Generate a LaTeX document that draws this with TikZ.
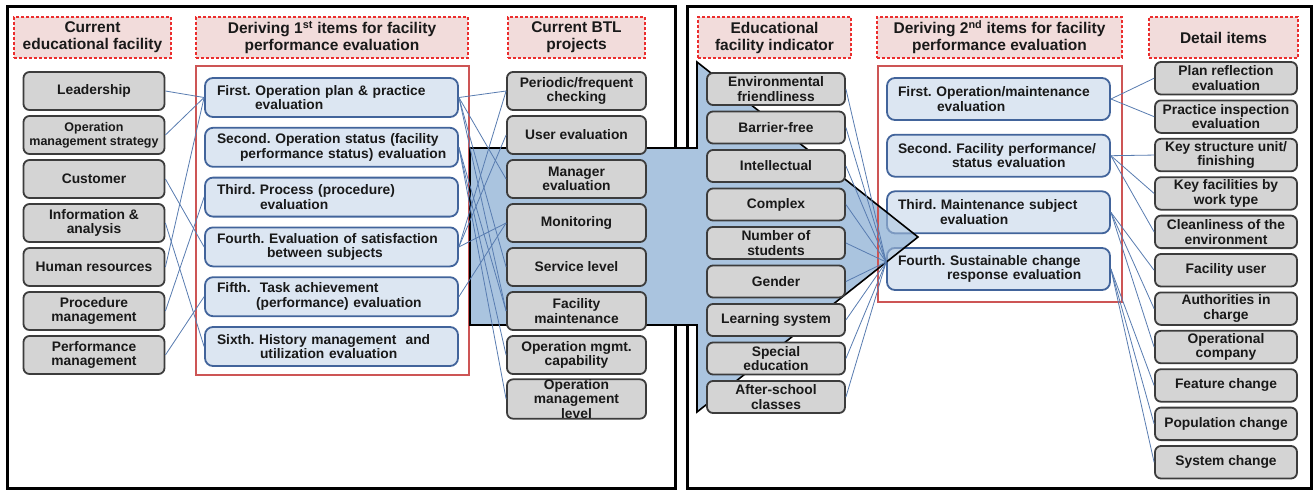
\documentclass[tikz,border=0pt]{standalone}
\usepackage{fontspec}
\setmainfont{Liberation Sans}
\usetikzlibrary{calc}
\frenchspacing

\definecolor{txt}{RGB}{25,25,25}
\definecolor{hdrred}{RGB}{235,45,45}
\definecolor{hdrpink}{RGB}{242,220,219}
\definecolor{framered}{RGB}{205,85,85}
\definecolor{gboxline}{RGB}{60,60,60}
\definecolor{gboxfill}{RGB}{212,212,212}
\definecolor{bboxline}{RGB}{66,100,155}
\definecolor{bboxfill}{RGB}{220,230,242}
\definecolor{arrowblue}{RGB}{170,196,223}
\definecolor{linkblue}{RGB}{88,124,176}

\newcommand{\hdrfont}{\fontsize{15.5}{17}\selectfont\bfseries}
\newcommand{\boxfont}{\fontsize{13.8}{14.6}\selectfont\bfseries}
\newcommand{\smallboxfont}{\fontsize{12.5}{14}\selectfont\bfseries}

\begin{document}
\begin{tikzpicture}[x=1pt,y=-1pt,
  panel/.style={draw=black, line width=3pt, fill=white},
  hdr/.style={draw=hdrred, fill=hdrpink, line width=1.3pt, dash pattern=on 3pt off 2pt,
    align=center, font=\hdrfont, inner sep=0pt, text=txt, minimum height=41},
  redframe/.style={draw=framered, line width=2pt},
  gbox/.style={draw=gboxline, fill=gboxfill, line width=1.8pt, rounded corners=6pt,
    align=center, inner sep=0pt, font=\boxfont, text=txt},
  bbox/.style={draw=bboxline, fill=bboxfill, line width=1.8pt, rounded corners=8pt,
    align=left, inner ysep=0pt, font=\boxfont, text=txt},
  colA/.style={gbox, minimum width=141, minimum height=38},
  colB/.style={bbox, text width=229pt, inner xsep=12pt, minimum height=39},
  colC/.style={gbox, minimum width=139, minimum height=38},
  colD/.style={gbox, minimum width=138, minimum height=32},
  colE/.style={bbox, text width=201pt, inner xsep=11pt, minimum height=42},
  colF/.style={gbox, minimum width=142, minimum height=32.5},
  conn/.style={draw=linkblue, line width=0.8pt},
]
\useasboundingbox (0,0) rectangle (1314,490);

% two panels
\draw[panel] (7,6) rectangle (675,488);
\draw[panel] (687,6) rectangle (1311,488);

% column headers
\node[hdr, minimum width=157] (h1) at (92.5,37.5) {Current\\educational facility};
\node[hdr, minimum width=272] (h2) at (332,37.5) {Deriving 1\textsuperscript{st} items for facility\\performance evaluation};
\node[hdr, minimum width=137] (h3) at (576.5,37.5) {Current BTL\\projects};
\node[hdr, minimum width=153] (h4) at (774.5,37.5) {Educational\\facility indicator};
\node[hdr, minimum width=245] (h5) at (999.5,37.5) {Deriving 2\textsuperscript{nd} items for facility\\performance evaluation};
\node[hdr, minimum width=149] (h6) at (1223.5,37.5) {Detail items};

% big arrow between the panels
\coordinate (a1) at (470,148);
\coordinate (a2) at (697,148);
\coordinate (a3) at (697,62);
\coordinate (a4) at (918,237);
\coordinate (a5) at (697,412);
\coordinate (a6) at (697,325);
\coordinate (a7) at (470,325);
\fill[arrowblue] (a1) -- (a2) -- (a3) -- (a4) -- (a5) -- (a6) -- (a7) -- cycle;

% red frames around derived items
\draw[redframe] (196,66) rectangle (469,375);
\draw[redframe] (878,66) rectangle (1122,302);

% first derived items
\node[colB] (f1) at (331.5,97.5) {\mbox{First. Operation plan \& practice}\\\hspace*{38pt}evaluation};
\node[colB] (f2) at (331.5,147.3) {\mbox{Second. Operation status (facility}\\\hspace*{23pt}\mbox{performance status) evaluation}};
\node[colB] (f3) at (331.5,197.1) {\mbox{Third. Process (procedure)}\\\hspace*{43pt}evaluation};
\node[colB] (f4) at (331.5,246.9) {\mbox{Fourth. Evaluation of satisfaction}\\\hspace*{50pt}\mbox{between subjects}};
\node[colB] (f5) at (331.5,296.7) {\mbox{Fifth.\ \ Task achievement}\\\hspace*{39pt}\mbox{(performance) evaluation}};
\node[colB] (f6) at (331.5,346.5) {\mbox{Sixth. History management\ \ and}\\\hspace*{43pt}\mbox{utilization evaluation}};

% second derived items
\node[colE] (s1) at (998.5,99) {\mbox{First. Operation/maintenance}\\\hspace*{39pt}evaluation};
\node[colE] (s2) at (998.5,155.7) {\mbox{Second. Facility performance/}\\\hspace*{54pt}\mbox{status evaluation}};
\node[colE] (s3) at (998.5,212.3) {\mbox{Third. Maintenance subject}\\\hspace*{42pt}evaluation};
\node[colE] (s4) at (998.5,269) {\mbox{Fourth. Sustainable change}\\\hspace*{49pt}\mbox{response evaluation}};

% arrow tip laid over the boxes it reaches, then its outline
\begin{scope}
  \clip (a1) -- (a2) -- (a3) -- (a4) -- (a5) -- (a6) -- (a7) -- cycle;
  \fill[arrowblue, opacity=.55, rounded corners=8pt] (s3.north west) rectangle (s3.south east);
  \fill[arrowblue, opacity=.55, rounded corners=8pt] (s4.north west) rectangle (s4.south east);
\end{scope}
\draw[black, line width=1.6pt] (a1) -- (a2) -- (a3) -- (a4) -- (a5) -- (a6) -- (a7) -- cycle;

% current educational facility
\node[colA] (c1) at (94,91) {Leadership};
\node[colA, font=\smallboxfont] (c2) at (94,135) {Operation\\management strategy};
\node[colA] (c3) at (94,179) {Customer};
\node[colA] (c4) at (94,223) {Information \&\\analysis};
\node[colA] (c5) at (94,267) {Human resources};
\node[colA] (c6) at (94,311) {Procedure\\management};
\node[colA] (c7) at (94,355) {Performance\\management};

% current BTL projects
\node[colC] (t1) at (576.5,91) {Periodic/frequent\\checking};
\node[colC] (t2) at (576.5,135) {User evaluation};
\node[colC] (t3) at (576.5,179) {Manager\\evaluation};
\node[colC] (t4) at (576.5,223) {Monitoring};
\node[colC] (t5) at (576.5,267) {Service level};
\node[colC] (t6) at (576.5,311) {Facility\\maintenance};
\node[colC] (t7) at (576.5,355) {Operation mgmt.\\capability};
\node[colC] (t8) at (576.5,399) {Operation\\management\\level};

% educational facility indicators
\node[colD] (i1) at (776,89) {Environmental\\friendliness};
\node[colD] (i2) at (776,127.5) {Barrier-free};
\node[colD] (i3) at (776,166) {Intellectual};
\node[colD] (i4) at (776,204.5) {Complex};
\node[colD] (i5) at (776,243) {Number of\\students};
\node[colD] (i6) at (776,281.5) {Gender};
\node[colD] (i7) at (776,320) {Learning system};
\node[colD] (i8) at (776,358.5) {Special\\education};
\node[colD] (i9) at (776,397) {After-school\\classes};

% detail items
\node[colF] (d1) at (1226,78.25) {Plan reflection\\evaluation};
\node[colF] (d2) at (1226,116.65) {Practice inspection\\evaluation};
\node[colF] (d3) at (1226,155.05) {Key structure unit/\\finishing};
\node[colF] (d4) at (1226,193.45) {Key facilities by\\work type};
\node[colF] (d5) at (1226,231.85) {Cleanliness of the\\environment};
\node[colF] (d6) at (1226,270.25) {Facility user};
\node[colF] (d7) at (1226,308.65) {Authorities in\\charge};
\node[colF] (d8) at (1226,347.05) {Operational\\company};
\node[colF] (d9) at (1226,385.45) {Feature change};
\node[colF] (d10) at (1226,423.85) {Population change};
\node[colF] (d11) at (1226,462.25) {System change};

% links: facility -> first derived items
\draw[conn] (c1.east) -- (f1.west);
\draw[conn] (c2.east) -- (f1.west);
\draw[conn] (c3.east) -- (f4.west);
\draw[conn] (c4.east) -- (f6.west);
\draw[conn] (c5.east) -- (f1.west);
\draw[conn] (c6.east) -- (f3.west);
\draw[conn] (c7.east) -- (f5.west);

% links: first derived items -> BTL projects
\draw[conn] (f1.east) -- (t1.west);
\draw[conn] (f1.east) -- (t3.west);
\draw[conn] (f1.east) -- (t5.west);
\draw[conn] (f1.east) -- (t6.west);
\draw[conn] (f2.east) -- (t6.west);
\draw[conn] (f2.east) -- (t7.west);
\draw[conn] (f2.east) -- (t8.west);
\draw[conn] (f4.east) -- (t1.west);
\draw[conn] (f4.east) -- (t2.west);
\draw[conn] (f4.east) -- (t4.west);
\draw[conn] (f5.east) -- (t4.west);

% links: indicators -> fourth second-stage item
\coordinate (s4in) at ([yshift=7pt]s4.west);
\foreach \k in {1,...,9} {\draw[conn] (i\k.east) -- (s4in);}

% links: second derived items -> detail items
\draw[conn] (s1.east) -- (d1.west);
\draw[conn] (s1.east) -- (d2.west);
\draw[conn] (s2.east) -- (d3.west);
\draw[conn] (s2.east) -- (d4.west);
\draw[conn] (s2.east) -- (d5.west);
\draw[conn] (s3.east) -- (d6.west);
\draw[conn] (s3.east) -- (d7.west);
\draw[conn] (s3.east) -- (d8.west);
\draw[conn] (s4.east) -- (d9.west);
\draw[conn] (s4.east) -- (d10.west);
\draw[conn] (s4.east) -- (d11.west);
\end{tikzpicture}
\end{document}
